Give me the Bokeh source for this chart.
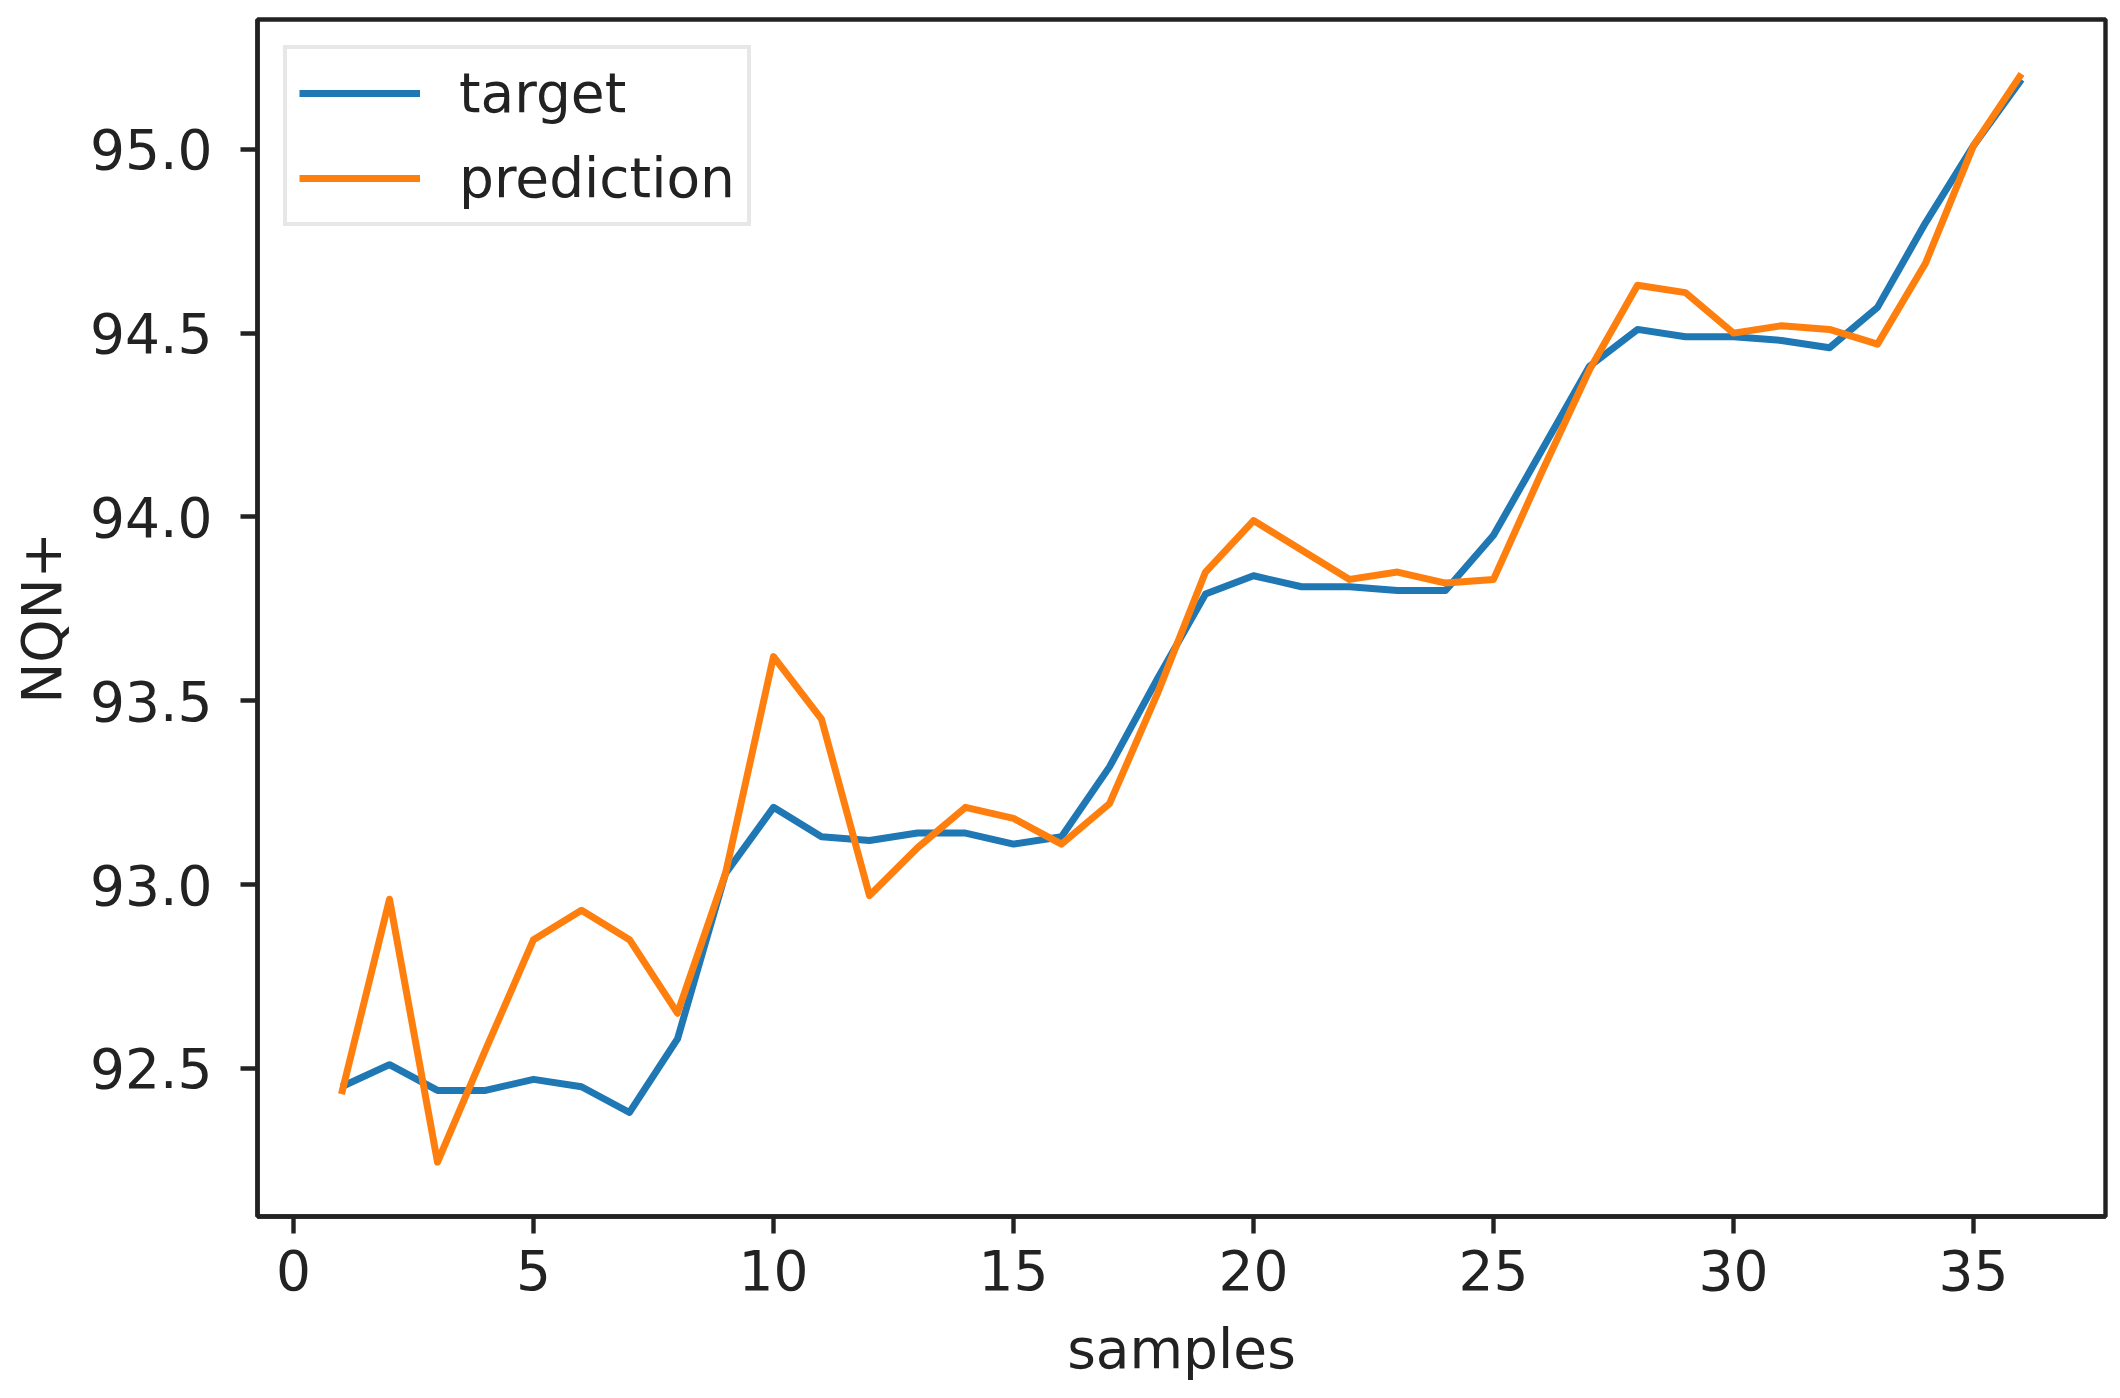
from bokeh.plotting import figure
from bokeh.models import Range1d, FixedTicker, Legend, LegendItem, CustomJSTickFormatter
from bokeh.embed import file_html
from bokeh.resources import INLINE

samples = list(range(1, 37))
target = [92.45, 92.51, 92.44, 92.44, 92.47, 92.45, 92.38, 92.58, 93.03, 93.21,
          93.13, 93.12, 93.14, 93.14, 93.11, 93.13, 93.32, 93.56, 93.79, 93.84,
          93.81, 93.81, 93.80, 93.80, 93.95, 94.18, 94.41, 94.51, 94.49, 94.49,
          94.48, 94.46, 94.57, 94.80, 95.01, 95.19]
prediction = [92.43, 92.96, 92.245, 92.55, 92.85, 92.93, 92.85, 92.65, 93.03, 93.62,
              93.45, 92.97, 93.10, 93.21, 93.18, 93.11, 93.22, 93.52, 93.85, 93.99,
              93.91, 93.83, 93.85, 93.82, 93.83, 94.12, 94.40, 94.63, 94.61, 94.50,
              94.52, 94.51, 94.47, 94.69, 95.01, 95.205]
x_ticks = [0, 5, 10, 15, 20, 25, 30, 35]
y_ticks = [92.5, 93.0, 93.5, 94.0, 94.5, 95.0]
series_names = ["target", "prediction"]
series_colors = ["#1f77b4", "#ff7f0e"]

FONT = "DejaVu Sans"
FS = "55px"
INK = "#222222"

xmin, xmax = min(samples), max(samples)
xpad = 0.05 * (xmax - xmin)
allv = target + prediction
ymin, ymax = min(allv), max(allv)
ypad = 0.05 * (ymax - ymin)

p = figure(width=2112, height=1390, output_backend="svg", toolbar_location=None,
           x_range=Range1d(xmin - xpad, xmax + xpad),
           y_range=Range1d(ymin - ypad, ymax + ypad),
           min_border_left=257, min_border_right=7, min_border_top=19, min_border_bottom=174)

p.xgrid.visible = False
p.ygrid.visible = False
p.background_fill_color = "white"
p.border_fill_color = "white"
p.outline_line_color = INK
p.outline_line_width = 4.4

r1 = p.line(samples, target, line_color=series_colors[0], line_width=7, line_join="round")
r2 = p.line(samples, prediction, line_color=series_colors[1], line_width=7, line_join="round")

for ax in (p.xaxis[0], p.yaxis[0]):
    ax.axis_line_color = INK
    ax.axis_line_width = 4.4
    ax.major_tick_line_color = INK
    ax.major_tick_line_width = 4.4
    ax.major_tick_out = 17
    ax.major_tick_in = 0
    ax.minor_tick_line_color = None
    ax.major_label_text_font = FONT
    ax.major_label_text_font_size = FS
    ax.major_label_text_color = INK
    ax.axis_label_text_font = FONT
    ax.axis_label_text_font_size = FS
    ax.axis_label_text_font_style = "normal"
    ax.axis_label_text_color = INK

p.xaxis[0].ticker = FixedTicker(ticks=x_ticks)
p.yaxis[0].ticker = FixedTicker(ticks=y_ticks)
p.yaxis[0].formatter = CustomJSTickFormatter(code="return tick.toFixed(1);")
p.xaxis[0].major_label_standoff = 16
p.yaxis[0].major_label_standoff = 28
p.xaxis[0].axis_label = "samples"
p.yaxis[0].axis_label = "NQN+"
p.xaxis[0].axis_label_standoff = 24
p.yaxis[0].axis_label_standoff = 13

legend = Legend(items=[LegendItem(label=series_names[0], renderers=[r1]),
                       LegendItem(label=series_names[1], renderers=[r2])],
                location="top_left")
legend.margin = 26
legend.padding = 12
legend.spacing = 21
legend.glyph_width = 121
legend.glyph_height = 52
legend.label_height = 52
legend.label_standoff = 39
legend.label_text_font = FONT
legend.label_text_font_size = FS
legend.label_text_color = INK
legend.border_line_color = "#d0d0d0"
legend.border_line_width = 4
legend.background_fill_color = "white"
legend.background_fill_alpha = 0.8
p.add_layout(legend, "center")

open("out.html", "w").write(file_html(p, INLINE))
